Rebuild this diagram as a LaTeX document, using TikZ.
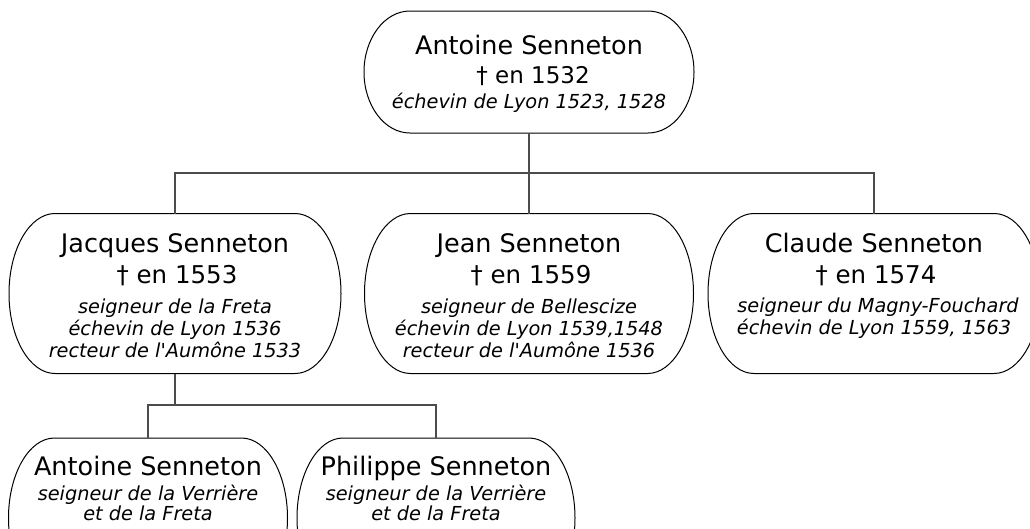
\documentclass[tikz,border=0pt]{standalone}
\usepackage{fontspec}
\setmainfont{DejaVu Sans}[Ligatures=TeXOff]
\usetikzlibrary{calc}
\newcommand\ovaloutline[3]{% node, half width, half height
  \draw[boxline] ($(#1.center)+({-#2+46},#3)$) -- ($(#1.center)+({#2-46},#3)$)
    arc[start angle=90,end angle=-90,x radius=46pt,y radius=#3pt]
    -- ($(#1.center)+({-#2+46},-#3)$)
    arc[start angle=270,end angle=90,x radius=46pt,y radius=#3pt] -- cycle;}
\begin{document}
\begin{tikzpicture}[x=1pt,y=1pt,
  boxline/.style={draw=black,line width=1pt},
  conn/.style={draw=black!70,line width=1.3pt},
  pers/.style={inner sep=0pt,outer sep=0pt,shape=rectangle},
  nm/.style={anchor=base,inner sep=0pt,font=\fontsize{25.5}{30}\selectfont},
  dt/.style={anchor=base,inner sep=0pt,font=\fontsize{24.5}{28}\selectfont},
  dttop/.style={anchor=base,inner sep=0pt,font=\fontsize{23}{27}\selectfont},
  det/.style={anchor=base,inner sep=0pt,font=\fontsize{19.3}{23}\selectfont\itshape}]
\clip (0,0) rectangle (1030,-528);
\fill[white] (0,0) rectangle (1030,-528);

% person shapes
\node[pers,minimum width=330pt,minimum height=122pt] (A) at (529,-72) {};
\node[pers,minimum width=332pt,minimum height=160pt] (J) at (175,-293.5) {};
\node[pers,minimum width=329pt,minimum height=160pt] (N) at (529,-293.5) {};
\node[pers,minimum width=332pt,minimum height=160pt] (C) at (874,-293.5) {};
\node[pers,minimum width=279pt,minimum height=160pt] (K) at (148,-518) {};
\node[pers,minimum width=278pt,minimum height=160pt] (P) at (436,-518) {};

\ovaloutline{A}{165}{61}
\ovaloutline{J}{166}{80}
\ovaloutline{N}{164.5}{80}
\ovaloutline{C}{166}{80}
\ovaloutline{K}{139.5}{80}
\ovaloutline{P}{139}{80}

% texts
\node[nm] (A1) at (529,-54) {Antoine Senneton};
\node[dttop] (A2) at (533,-83) {† en 1532};
\node[det] (A3) at (529,-108) {échevin de Lyon 1523, 1528};

\node[nm] (J1) at (175,-252) {Jacques Senneton};
\node[dt] (J2) at (177,-283) {† en 1553};
\node[det] (J3) at (175,-313) {seigneur de la Freta};
\node[det] (J4) at (175,-335) {échevin de Lyon 1536};
\node[det] (J5) at (175,-357) {recteur de l'Aumône 1533};

\node[nm] (N1) at (529,-252) {Jean Senneton};
\node[dt] (N2) at (531,-283) {† en 1559};
\node[det] (N3) at (529,-313) {seigneur de Bellescize};
\node[det] (N4) at (529,-335) {échevin de Lyon 1539,1548};
\node[det] (N5) at (529,-357) {recteur de l'Aumône 1536};

\node[nm] (C1) at (874,-252) {Claude Senneton};
\node[dt] (C2) at (876,-283) {† en 1574};
\node[det] (C3) at (878,-312) {seigneur du Magny-Fouchard};
\node[det] (C4) at (874,-334) {échevin de Lyon 1559, 1563};

\node[nm] (K1) at (148,-475) {Antoine Senneton};
\node[det] (K2) at (148,-500) {seigneur de la Verrière};
\node[det] (K3) at (148,-520) {et de la Freta};

\node[nm] (P1) at (436,-475) {Philippe Senneton};
\node[det] (P2) at (436,-500) {seigneur de la Verrière};
\node[det] (P3) at (436,-520) {et de la Freta};

% connectors
\coordinate (bus) at (0,-173);
\coordinate (bus2) at (0,-405);
\draw[conn] (A.south) -- (A.south |- bus);
\draw[conn] (J.north) -- (J.north |- bus) -- (C.north |- bus) -- (C.north);
\draw[conn] (N.north) -- (N.north |- bus);
\draw[conn] (J.south) -- (J.south |- bus2);
\draw[conn] (K.north) -- (K.north |- bus2) -- (P.north |- bus2) -- (P.north);
\end{tikzpicture}
\end{document}
